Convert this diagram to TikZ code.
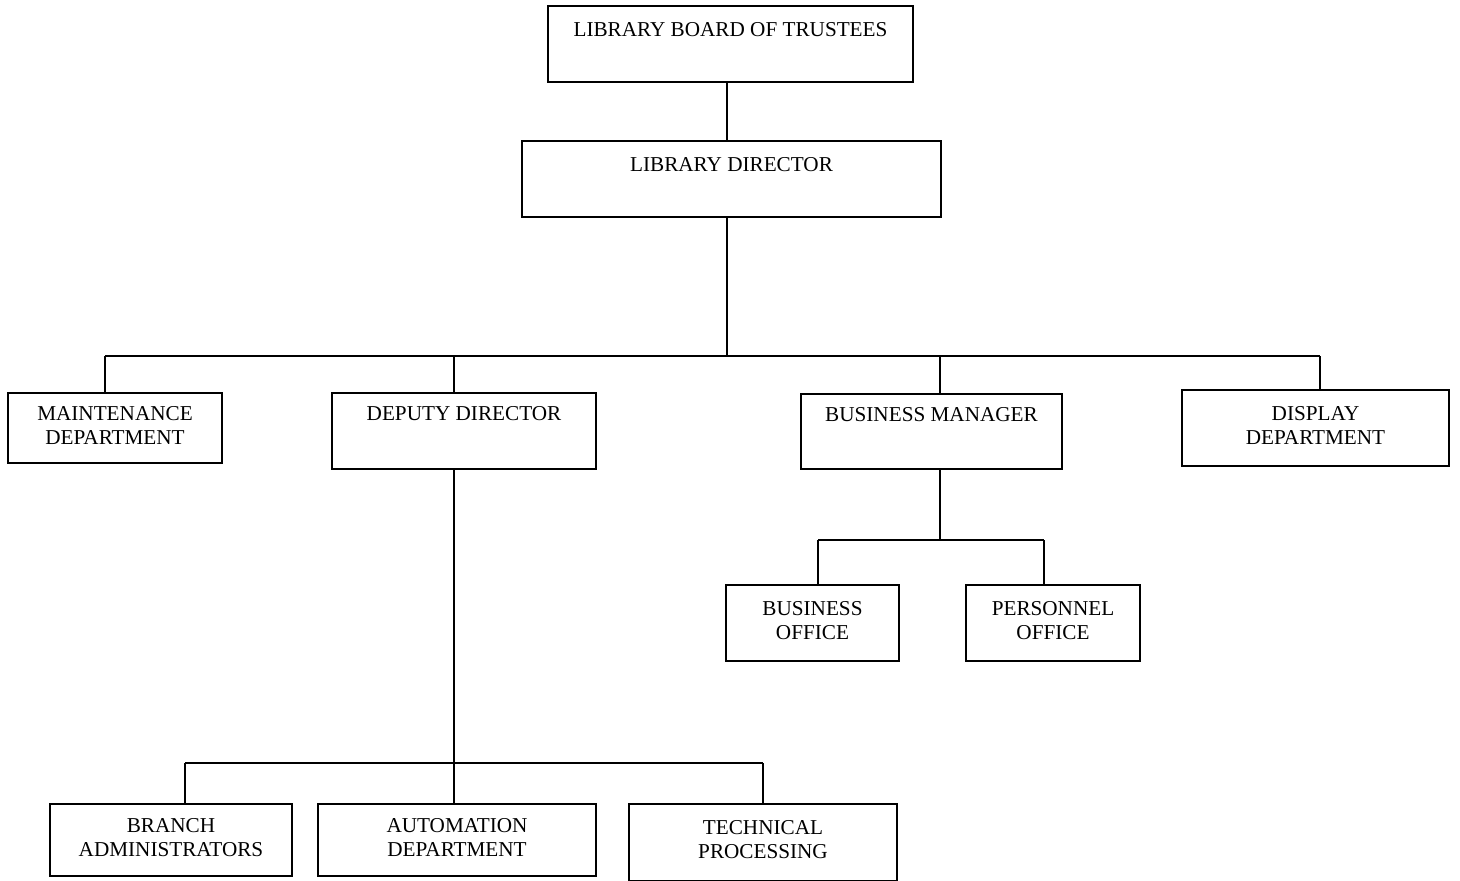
\documentclass[tikz,border=0pt]{standalone}
\usepackage{fontspec}
\setmainfont{Liberation Serif}
\usepackage{tikz}

\begin{document}
\begin{tikzpicture}[x=0.5pt, y=-0.5pt, line width=1pt,
    font=\fontsize{10.6pt}{12pt}\selectfont,
    unit/.style={draw, rectangle, line width=1pt, align=center, inner sep=0pt, anchor=north},
    head/.style={unit, text height=15pt, text depth=23pt},
    chief/.style={unit, text height=13.5pt, text depth=24.5pt},
    dept/.style={unit, minimum height=38pt, text depth=3pt}]

    \useasboundingbox (0,0) rectangle (1460,880);

    \node[head, minimum width=182.5pt] (Board) at (730.5,5)
    {LIBRARY BOARD OF TRUSTEES};

    \node[head, minimum width=209.5pt] (Dir) at (731.5,140)
    {LIBRARY DIRECTOR};

    % ---------------------------------------------------------

    \node[dept, minimum width=107pt, minimum height=35pt] (Maint) at (115,392)
    {MAINTENANCE\\DEPARTMENT};

    \node[chief, minimum width=132pt] (Deputy) at (464,392)
    {DEPUTY DIRECTOR};

    \node[chief, minimum width=130.5pt, text depth=24pt] (BizMgr) at (931.5,393)
    {BUSINESS MANAGER};

    \node[dept, minimum width=133.5pt] (Display) at (1315.5,389)
    {DISPLAY\\DEPARTMENT};

    % ---------------------------------------------------------

    \node[dept, minimum width=86.5pt] (BizOff) at (812.5,584)
    {BUSINESS\\OFFICE};

    \node[dept, minimum width=87pt] (PersOff) at (1053,584)
    {PERSONNEL\\OFFICE};

    % ---------------------------------------------------------

    \node[dept, minimum width=121pt, minimum height=36pt] (Branch) at (171,803)
    {BRANCH\\ADMINISTRATORS};

    \node[dept, minimum width=139pt, minimum height=36pt] (Autom) at (457,803)
    {AUTOMATION\\DEPARTMENT};

    \node[dept, minimum width=134pt, minimum height=38.5pt] (Tech) at (763,803)
    {TECHNICAL\\PROCESSING};

    % taps on the three buses
    \coordinate (tDir) at (727,356);
    \coordinate (tMaint) at (105,356);
    \coordinate (tDeputy) at (454,356);
    \coordinate (tBizMgr) at (940,356);
    \coordinate (tDisplay) at (1320,356);

    \coordinate (tDep) at (454,763);
    \coordinate (tBranch) at (185,763);
    \coordinate (tTech) at (763,763);

    \coordinate (tBiz) at (940,540);
    \coordinate (tBizOff) at (818,540);
    \coordinate (tPersOff) at (1044,540);

    \path[draw]
    {
        (Board.south -| tDir) edge (Dir.north -| tDir)
        (Dir.south -| tDir) edge (tDir)

        (tMaint) edge (tDisplay)
        (tMaint) edge (tMaint |- Maint.north)
        (tDeputy) edge (tDeputy |- Deputy.north)
        (tBizMgr) edge (tBizMgr |- BizMgr.north)
        (tDisplay) edge (tDisplay |- Display.north)

        % --------------------------------------------------

        (Deputy.south -| tDep) edge (tDep)
        (tBranch) edge (tTech)
        (tBranch) edge (tBranch |- Branch.north)
        (tDep) edge (tDep |- Autom.north)
        (tTech) edge (Tech.north)

        % --------------------------------------------------

        (BizMgr.south -| tBiz) edge (tBiz)
        (tBizOff) edge (tPersOff)
        (tBizOff) edge (tBizOff |- BizOff.north)
        (tPersOff) edge (tPersOff |- PersOff.north)
    };
\end{tikzpicture}
\end{document}
